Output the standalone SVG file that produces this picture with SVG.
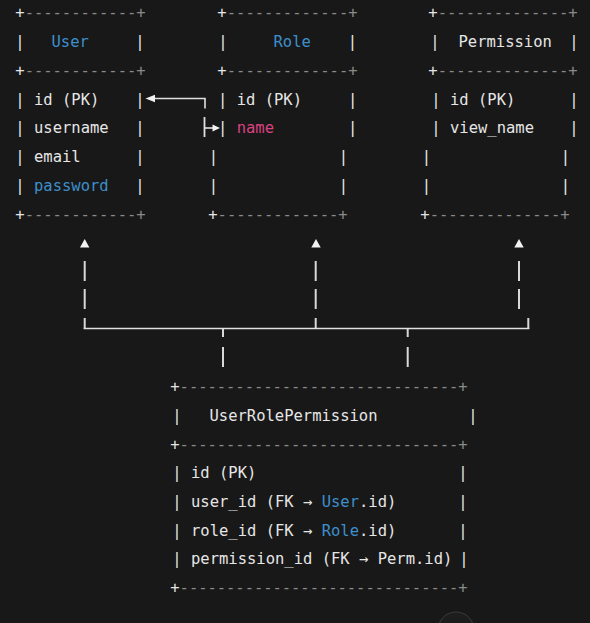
<svg xmlns="http://www.w3.org/2000/svg" width="590" height="623" viewBox="0 0 590 623">
<style>
.t{font-family:"DejaVu Sans Mono","Liberation Mono",monospace;font-size:15.5px;fill:#e6e6e6;white-space:pre}
.m{text-anchor:middle}
.b{fill:#3d8fcb}
.p{fill:#d9427f}
.d{fill:#8a8a8a}
.c{stroke:#e0e0e0;fill:none;stroke-linecap:butt}
.pp{stroke:#d8d8d8;stroke-width:2}
.ah{fill:#f2f2f2}
</style>
<rect width="590" height="623" fill="#181818"/>

<g id="user">
<text class="t" x="15.33" y="18" textLength="130.3" lengthAdjust="spacing">+<tspan class="d">------------+</tspan></text>
<text class="t m" x="20" y="47">|</text><text class="t b" x="51.5" y="47">User</text><text class="t m" x="140" y="47">|</text>
<text class="t" x="15.33" y="76" textLength="130.3" lengthAdjust="spacing">+<tspan class="d">------------+</tspan></text>
<text class="t m" x="20" y="104.5">|</text><text class="t" x="34" y="104.5">id (PK)</text><text class="t m" x="140" y="104.5">|</text>
<text class="t m" x="20" y="133">|</text><text class="t" x="34" y="133">username</text><text class="t m" x="140" y="133">|</text>
<text class="t m" x="20" y="162">|</text><text class="t" x="34" y="162">email</text><text class="t m" x="140" y="162">|</text>
<text class="t m" x="20" y="191">|</text><text class="t b" x="34" y="191">password</text><text class="t m" x="140" y="191">|</text>
<text class="t" x="15.33" y="219.5" textLength="130.3" lengthAdjust="spacing">+<tspan class="d">------------+</tspan></text>
</g>

<g id="role">
<text class="t" x="217.33" y="18" textLength="140.3" lengthAdjust="spacing">+<tspan class="d">-------------+</tspan></text>
<text class="t m" x="223" y="47">|</text><text class="t b" x="273.5" y="47">Role</text><text class="t m" x="352.5" y="47">|</text>
<text class="t" x="217.33" y="76" textLength="140.3" lengthAdjust="spacing">+<tspan class="d">-------------+</tspan></text>
<text class="t m" x="222.7" y="104.5">|</text><text class="t" x="236.7" y="104.5">id (PK)</text><text class="t m" x="352.7" y="104.5">|</text>
<text class="t m" x="222.7" y="133">|</text><text class="t p" x="236.7" y="133">name</text><text class="t m" x="352.7" y="133">|</text>
<text class="t m" x="213.3" y="162">|</text><text class="t m" x="343.3" y="162">|</text>
<text class="t m" x="213.3" y="191">|</text><text class="t m" x="343.3" y="191">|</text>
<text class="t" x="208.33" y="219.5" textLength="139.3" lengthAdjust="spacing">+<tspan class="d">-------------+</tspan></text>
</g>

<g id="permission">
<text class="t" x="428.33" y="18" textLength="149.3" lengthAdjust="spacing">+<tspan class="d">--------------+</tspan></text>
<text class="t m" x="435" y="47">|</text><text class="t" x="458.5" y="47">Permission</text><text class="t m" x="574" y="47">|</text>
<text class="t" x="428.33" y="76" textLength="149.3" lengthAdjust="spacing">+<tspan class="d">--------------+</tspan></text>
<text class="t m" x="436" y="104.5">|</text><text class="t" x="450" y="104.5">id (PK)</text><text class="t m" x="574" y="104.5">|</text>
<text class="t m" x="436" y="133">|</text><text class="t" x="450" y="133">view_name</text><text class="t m" x="574" y="133">|</text>
<text class="t m" x="426.5" y="162">|</text><text class="t m" x="565.5" y="162">|</text>
<text class="t m" x="426.5" y="191">|</text><text class="t m" x="565.5" y="191">|</text>
<text class="t" x="420.33" y="219.5" textLength="149.3" lengthAdjust="spacing">+<tspan class="d">--------------+</tspan></text>
</g>

<g id="user-role-permission">
<text class="t" x="170.33" y="392" textLength="297.3" lengthAdjust="spacing">+<tspan class="d">------------------------------+</tspan></text>
<text class="t m" x="177" y="421">|</text><text class="t" x="209.5" y="421">UserRolePermission</text><text class="t m" x="473" y="421">|</text>
<text class="t" x="170.33" y="450" textLength="297.3" lengthAdjust="spacing">+<tspan class="d">------------------------------+</tspan></text>
<text class="t m" x="177" y="478">|</text><text class="t" x="191" y="478">id (PK)</text><text class="t m" x="463" y="478">|</text>
<text class="t m" x="177" y="507">|</text><text class="t" x="191" y="507">user_id (FK → <tspan class="b">User</tspan>.id)</text><text class="t m" x="463" y="507">|</text>
<text class="t m" x="177" y="536">|</text><text class="t" x="191" y="536">role_id (FK → <tspan class="b">Role</tspan>.id)</text><text class="t m" x="463" y="536">|</text>
<text class="t m" x="177" y="564">|</text><text class="t" x="191" y="564">permission_id (FK → Perm.id)</text><text class="t m" x="464" y="564">|</text>
<text class="t" x="170.33" y="593" textLength="297.3" lengthAdjust="spacing">+<tspan class="d">------------------------------+</tspan></text>
</g>

<g id="connectors">
<polyline class="c" stroke-width="1.6" points="205,108.5 205,98.5 155,98.5"/>
<polygon class="ah" points="145.5,98.5 155,94.8 155,102.2"/>
<line class="c" stroke-width="1.8" x1="204.5" y1="117" x2="204.5" y2="137"/>
<line class="c" stroke-width="1.6" x1="204.5" y1="128" x2="213" y2="128"/>
<polygon class="ah" points="220,128 212.5,124.5 212.5,131.5"/>

<polygon class="ah" points="84.7,239 80,247.5 89.4,247.5"/>
<polygon class="ah" points="316,239 311.3,247.5 320.7,247.5"/>
<polygon class="ah" points="519,239 514.3,247.5 523.7,247.5"/>

<g class="c pp">
<line x1="84.7" y1="261" x2="84.7" y2="281"/>
<line x1="84.7" y1="289" x2="84.7" y2="309"/>
<line x1="84.7" y1="318" x2="84.7" y2="329"/>
<line x1="315.7" y1="261" x2="315.7" y2="281"/>
<line x1="315.7" y1="289" x2="315.7" y2="309"/>
<line x1="315.7" y1="318" x2="315.7" y2="329"/>
<line x1="519" y1="261" x2="519" y2="281"/>
<line x1="519" y1="289" x2="519" y2="309"/>
<line x1="528.3" y1="318" x2="528.3" y2="329"/>
<line x1="223" y1="328" x2="223" y2="337"/>
<line x1="223" y1="347" x2="223" y2="367"/>
<line x1="407.7" y1="328" x2="407.7" y2="337"/>
<line x1="407.7" y1="347" x2="407.7" y2="367"/>
</g>
<line class="c" stroke-width="1.6" x1="83.7" y1="328.5" x2="529.3" y2="328.5"/>
</g>

<circle cx="456" cy="630" r="18" fill="#1d1d1d" stroke="#3a3a3a" stroke-width="1"/>
</svg>
